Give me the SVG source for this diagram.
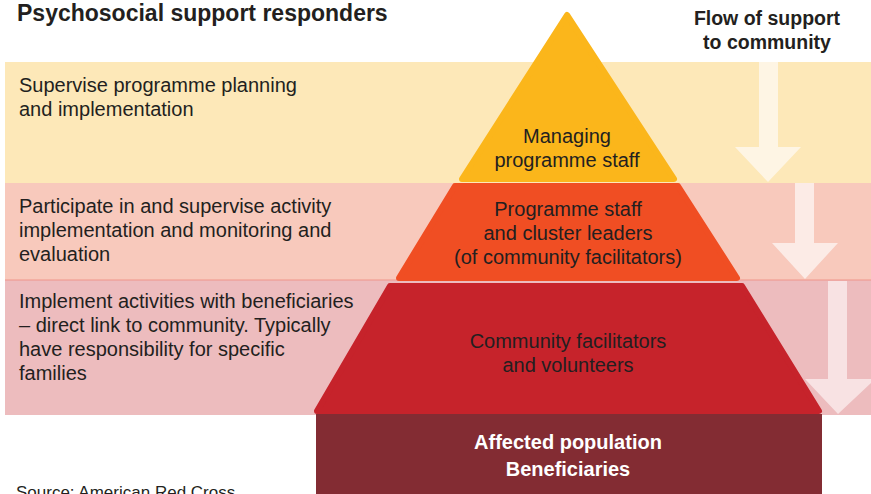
<svg xmlns="http://www.w3.org/2000/svg" width="871" height="494" viewBox="0 0 871 494">
<style>
.t{font-family:"Liberation Sans",Arial,sans-serif;fill:#231f20}
.l{font-size:20px}
.c{font-size:20px;text-anchor:middle}
.b{font-weight:bold}
.w{fill:#ffffff;font-weight:bold;font-size:20px;text-anchor:middle}
</style>
<rect width="871" height="494" fill="#ffffff"/>
<g id="bands">
<rect x="5" y="62" width="866" height="121" fill="#fde8b8"/>
<rect x="5" y="183" width="866" height="97" fill="#f8c9bc"/>
<rect x="5" y="280" width="866" height="135" fill="#edbcbe"/>
<line x1="5" y1="280" x2="871" y2="280" stroke="#f0948a" stroke-width="1"/>
</g>
<g id="connectors">
<path d="M759,62 H778 V147 H801 L768,182 L735,147 H759 Z" fill="#fef5e4"/>
<path d="M795,183 H814 V243 H838 L805,279 L772,243 H795 Z" fill="#fcebe6"/>
<path d="M828,281 H847 V379 H871 V383 L838,414 L805,379 H828 Z" fill="#f8e2e3"/>
</g>
<g id="title">
<text class="t b" x="17" y="21" font-size="23">Psychosocial support responders</text>
<text class="t b" x="767" y="25" font-size="19.5" text-anchor="middle">Flow of support</text>
<text class="t b" x="767" y="49" font-size="19.5" text-anchor="middle">to community</text>
</g>
<g id="row1-text">
<text class="t l" x="19" y="92">Supervise programme planning</text>
<text class="t l" x="19" y="116">and implementation</text>
</g>
<g id="row2-text">
<text class="t l" x="19" y="213">Participate in and supervise activity</text>
<text class="t l" x="19" y="237">implementation and monitoring and</text>
<text class="t l" x="19" y="261">evaluation</text>
</g>
<g id="row3-text">
<text class="t l" x="19" y="308">Implement activities with beneficiaries</text>
<text class="t l" x="19" y="332">– direct link to community. Typically</text>
<text class="t l" x="19" y="356">have responsibility for specific</text>
<text class="t l" x="19" y="380">families</text>
</g>
<g id="managing">
<path d="M567,15 L674,179 L462,179 Z" fill="#fbb61b" stroke="#fbb61b" stroke-width="6" stroke-linejoin="round"/>
<text class="t c" x="567" y="143">Managing</text>
<text class="t c" x="567" y="167">programme staff</text>
</g>
<g id="programme-staff">
<path d="M455,186 L678,186 L737,278 L399,278 Z" fill="#f04e23" stroke="#f04e23" stroke-width="6" stroke-linejoin="round"/>
<text class="t c" x="568" y="216">Programme staff</text>
<text class="t c" x="568" y="240">and cluster leaders</text>
<text class="t c" x="568" y="264">(of community facilitators)</text>
</g>
<g id="community-facilitators">
<path d="M390,286 L742,286 L819,411 L317,411 Z" fill="#c6232b" stroke="#c6232b" stroke-width="6" stroke-linejoin="round"/>
<text class="t c" x="568" y="348">Community facilitators</text>
<text class="t c" x="568" y="372">and volunteers</text>
</g>
<g id="affected-population">
<rect x="316" y="414" width="506" height="80" fill="#832c33"/>
<text class="t w" x="568" y="449">Affected population</text>
<text class="t w" x="568" y="476">Beneficiaries</text>
</g>
<g id="source">
<text class="t" x="16" y="498" font-size="17" fill="#333333">Source: American Red Cross</text>
</g>
</svg>
